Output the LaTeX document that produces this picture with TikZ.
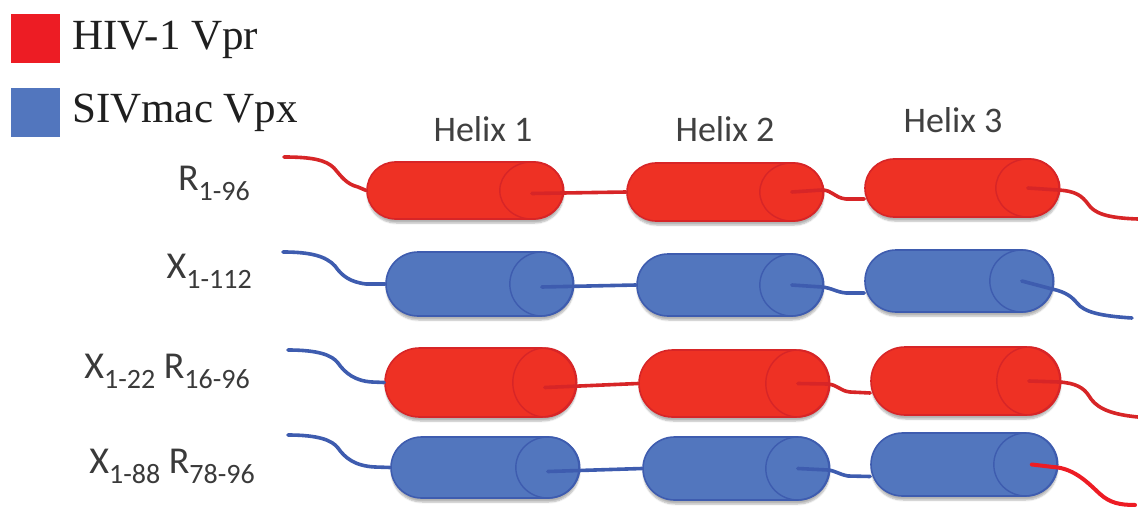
\documentclass[tikz,border=0pt]{standalone}
\usepackage{fontspec}
\usetikzlibrary{shapes.misc,shapes.geometric,shadows.blur}
\newfontfamily\carlito{Carlito}
\newfontfamily\timesf{Liberation Serif}

\definecolor{vprfill}{HTML}{EE3124}
\definecolor{vprline}{HTML}{D72527}
\definecolor{vprlegend}{HTML}{ED1C24}
\definecolor{vpxfill}{HTML}{5276BE}
\definecolor{vpxline}{HTML}{3E5CAF}
\definecolor{vpxlegend}{HTML}{5276BE}
\definecolor{labelgrey}{HTML}{3A3A3A}

% subscript for the construct names
\newcommand\resrange[1]{\raisebox{-10pt}{\fontsize{28}{30}\selectfont #1}}

% one helix: body (#1), end ellipse (#1e); #2,#3 centre, #4 width, #5 height, #6 protein
\newcommand\helixunit[6]{%
  \node[capsule=#6, minimum width=#4pt, minimum height=#5pt] (#1) at (#2,#3) {};
  \node[endcap=#6, minimum height=#5pt] (#1e) at ([xshift=-32pt]#1.east) {};
}

\tikzset{
  capsule/.style={shape=rounded rectangle, inner sep=0pt, fill=#1fill, draw=#1line,
    line width=1.6pt,
    blur shadow={shadow xshift=0.5pt, shadow yshift=-4pt, shadow blur steps=6,
      shadow opacity=30}},
  endcap/.style={shape=ellipse, inner sep=0pt, minimum width=64pt, draw=#1line,
    line width=1.4pt},
  linkline/.style={draw=#1line, line width=3.6pt, line cap=round, line join=round},
  tailline/.style={draw=vprlegend, line width=4pt, line cap=round, line join=round},
  legendbox/.style={fill=#1, minimum width=49pt, minimum height=49pt, inner sep=0pt},
  legendtext/.style={anchor=base west, inner sep=0pt, font=\timesf\fontsize{43}{46}\selectfont,
    text=black!88},
  helixhead/.style={anchor=base, inner sep=0pt, font=\carlito\fontsize{36}{40}\selectfont,
    text=black!75},
  rowlabel/.style={anchor=base east, inner sep=0pt, font=\carlito\fontsize{38}{42}\selectfont,
    text=labelgrey},
}

\begin{document}
\begin{tikzpicture}[x=1pt,y=-1pt]
\useasboundingbox (0,0) rectangle (1138,508);

% legend
\node[legendbox=vprlegend] (keyvpr) at (35.5,38.5) {};
\node[legendbox=vpxlegend] (keyvpx) at (35.5,112.5) {};
\node[legendtext] (keyvprtext) at (72,50) {HIV-1 Vpr};
\node[legendtext] (keyvpxtext) at (72,123) {SIVmac Vpx};

% column headings
\node[helixhead] (head1) at (483,142) {Helix 1};
\node[helixhead] (head2) at (725,142) {Helix 2};
\node[helixhead] (head3) at (953,133) {Helix 3};

% construct names
\node[rowlabel] (lab1) at (250,190) {R\resrange{1-96}};
\node[rowlabel] (lab2) at (252,278) {X\resrange{1-112}};
\node[rowlabel] (lab3) at (250,378) {X\resrange{1-22} R\resrange{16-96}};
\node[rowlabel] (lab4) at (255,473) {X\resrange{1-88} R\resrange{78-96}};

% helices
\helixunit{r1a}{465}{190.5}{196}{57}{vpr}
\helixunit{r1b}{725}{192}{196}{58}{vpr}
\helixunit{r1c}{962}{188}{194}{58}{vpr}

\helixunit{r2a}{479.5}{284}{187}{64}{vpx}
\helixunit{r2b}{730}{285}{186}{62}{vpx}
\helixunit{r2c}{959}{281}{188}{62}{vpx}

\helixunit{r3a}{480.5}{382.5}{191}{69}{vpr}
\helixunit{r3b}{734}{383.5}{190}{67}{vpr}
\helixunit{r3c}{965.5}{381}{189}{68}{vpr}

\helixunit{r4a}{485}{467.5}{188}{61}{vpx}
\helixunit{r4b}{736}{468.5}{186}{63}{vpx}
\helixunit{r4c}{964}{464.5}{186}{63}{vpx}

% free chain ends
\coordinate (r1s) at (284,157);  \coordinate (r1t) at (1138,219);
\coordinate (r2s) at (283,252);  \coordinate (r2t) at (1132,318);
\coordinate (r3s) at (288,350);  \coordinate (r3t) at (1138,417);
\coordinate (r4s) at (288,435);  \coordinate (r4t) at (1135,505);

% row 1: Vpr
\draw[linkline=vpr] (r1s) .. controls (312,157) and (326,160) .. (334,168)
  .. controls (341,176) and (346,184) .. (358,187) -- (r1a.west);
\draw[linkline=vpr] ([yshift=-3pt]r1ae.center) -- (r1b.west);
\draw[linkline=vpr] (r1be.center) -- (822,190) .. controls (832,190) and (835,198) .. (846,199)
  -- ([yshift=-11pt]r1c.west);
\draw[linkline=vpr] (r1ce.center) -- (1058,190) .. controls (1076,191) and (1082,196) .. (1088,204)
  .. controls (1094,213) and (1106,218) .. (r1t);

% row 2: Vpx
\draw[linkline=vpx] (r2s) .. controls (310,252) and (326,256) .. (335,266)
  .. controls (342,276) and (350,282) .. (366,284) -- (r2a.west);
\draw[linkline=vpx] ([yshift=-3pt]r2ae.center) -- (r2b.west);
\draw[linkline=vpx] (r2be.center) -- (822,287) .. controls (832,288) and (836,292) .. (846,293)
  -- ([yshift=-12pt]r2c.west);
\draw[linkline=vpx] (r2ce.center) -- (1052,289) .. controls (1066,292) and (1072,297) .. (1077,303)
  .. controls (1084,312) and (1100,316) .. (r2t);

% row 3: Vpx N-terminus on Vpr
\draw[linkline=vpx] (r3s) .. controls (318,350) and (332,355) .. (338,363)
  .. controls (345,373) and (355,381) .. (372,382) -- (r3a.west);
\draw[linkline=vpr] ([yshift=-5pt]r3ae.center) -- (r3b.west);
\draw[linkline=vpr] (r3be.center) -- (828,384) .. controls (838,385) and (840,391) .. (850,392)
  -- ([yshift=-12pt]r3c.west);
\draw[linkline=vpr] (r3ce.center) -- (1059,382) .. controls (1076,383) and (1084,388) .. (1089,396)
  .. controls (1095,406) and (1106,414) .. (r3t);

% row 4: Vpx with Vpr C-terminus
\draw[linkline=vpx] (r4s) .. controls (318,435) and (332,440) .. (338,448)
  .. controls (345,458) and (355,466) .. (375,467) -- (r4a.west);
\draw[linkline=vpx] ([yshift=-4pt]r4ae.center) -- (r4b.west);
\draw[linkline=vpx] (r4be.center) -- (828,470) .. controls (836,471) and (838,474) .. (848,476)
  -- ([yshift=-12pt]r4c.west);
\draw[tailline] ([xshift=6pt]r4ce.center) -- (1053,467) .. controls (1075,468) and (1090,485) .. (1100,494)
  .. controls (1110,503) and (1120,505) .. (r4t);
\end{tikzpicture}
\end{document}
